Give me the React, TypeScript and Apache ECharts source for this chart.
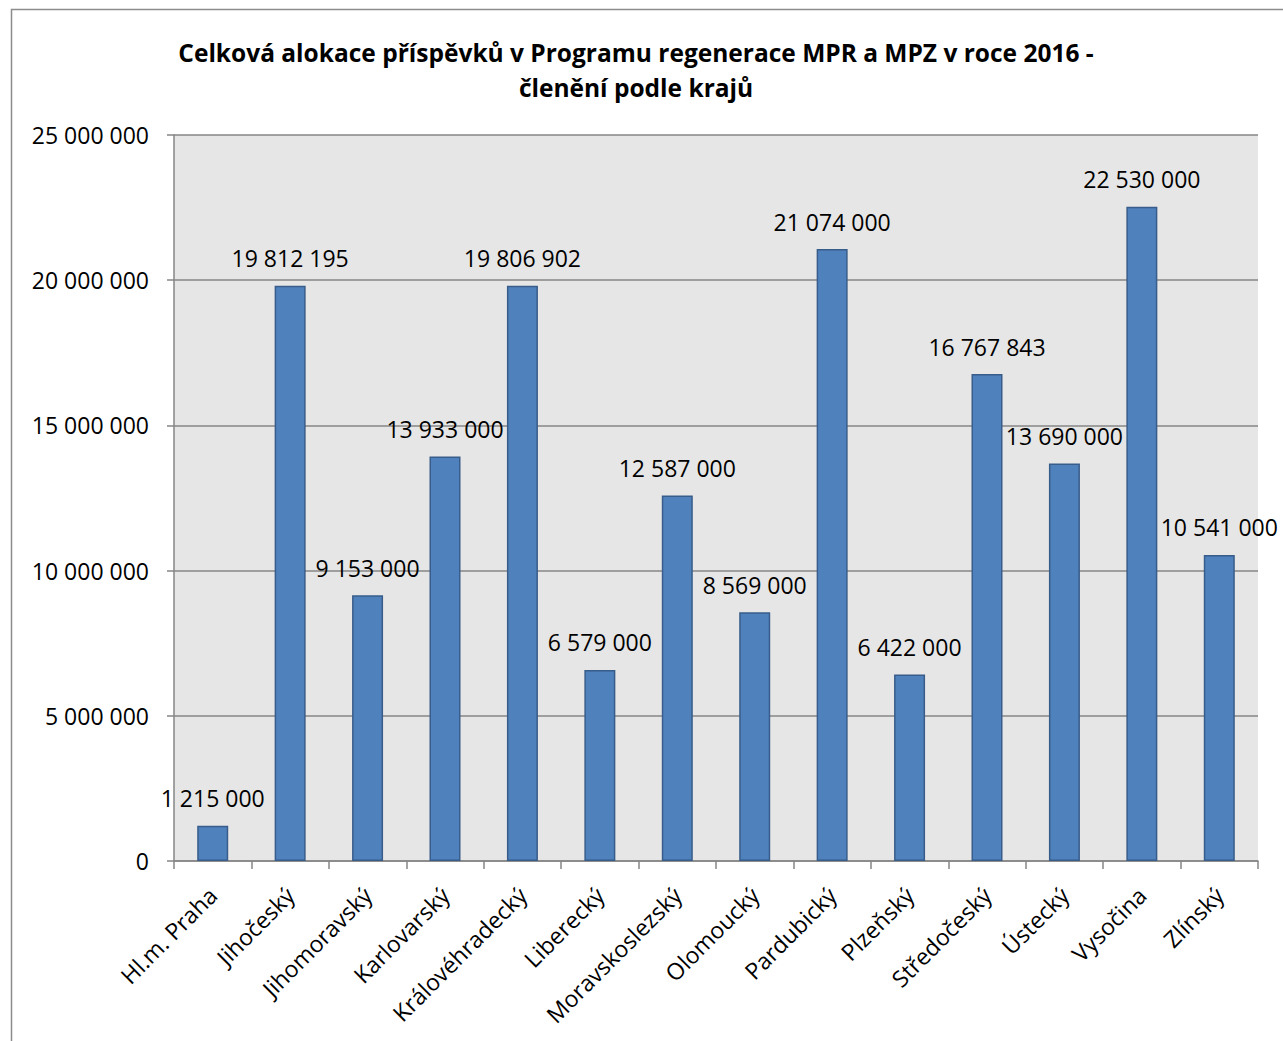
import React, { useEffect, useRef } from "react";
import * as echarts from "echarts";

const categories = [
  "Hl.m. Praha",
  "Jihočeský",
  "Jihomoravský",
  "Karlovarský",
  "Královéhradecký",
  "Liberecký",
  "Moravskoslezský",
  "Olomoucký",
  "Pardubický",
  "Plzeňský",
  "Středočeský",
  "Ústecký",
  "Vysočina",
  "Zlínský",
];

const values = [
  1215000, 19812195, 9153000, 13933000, 19806902, 6579000, 12587000, 8569000,
  21074000, 6422000, 16767843, 13690000, 22530000, 10541000,
];

const titleLines = [
  "Celková alokace příspěvků v Programu regenerace MPR a MPZ v roce 2016 -",
  "členění podle krajů",
];

const yMin = 0;
const yMax = 25000000;
const yInterval = 5000000;

const fmt = (v: number) =>
  String(Math.round(v)).replace(/\B(?=(\d{3})+(?!\d))/g, " ");

const FONT = "'Open Sans', 'Noto Sans', sans-serif";

export default function App() {
  const ref = useRef<HTMLDivElement>(null);
  useEffect(() => {
    if (!ref.current) return;
    const chart = echarts.init(ref.current, null, { renderer: "svg" });
    chart.setOption({
      animation: false,
      backgroundColor: "#ffffff",
      textStyle: { fontFamily: FONT },
      graphic: [
        {
          type: "rect",
          shape: { x: 11.5, y: 9.5, width: 1400, height: 1200 },
          style: { fill: "none", stroke: "#8c8c8c", lineWidth: 1.5 },
          silent: true,
          z: 0,
        },
        {
          type: "text",
          x: 636,
          y: 35,
          silent: true,
          style: {
            text: titleLines.join("\n"),
            textAlign: "center",
            textVerticalAlign: "top",
            fontFamily: FONT,
            fontWeight: "bold",
            fontSize: 24.5,
            lineHeight: 35,
            fill: "#000000",
          },
        },
      ],
      grid: {
        left: 174,
        right: 25,
        top: 135,
        bottom: 180,
        show: true,
        backgroundColor: "#e6e6e6",
        borderWidth: 0,
        outerBoundsMode: "none",
        containLabel: false,
      },
      xAxis: {
        type: "category",
        data: categories,
        axisLine: { show: true, lineStyle: { color: "#868686", width: 1.5 } },
        axisTick: {
          show: true,
          length: 8,
          lineStyle: { color: "#868686", width: 1.5 },
        },
        axisLabel: {
          rotate: 45,
          interval: 0,
          margin: 30,
          fontSize: 23,
          color: "#000000",
          fontFamily: FONT,
        },
        splitLine: { show: false },
      },
      yAxis: {
        type: "value",
        min: yMin,
        max: yMax,
        interval: yInterval,
        axisLine: { show: true, lineStyle: { color: "#868686", width: 1.5 } },
        axisTick: {
          show: true,
          length: 7,
          lineStyle: { color: "#868686", width: 1.5 },
        },
        axisLabel: {
          margin: 25,
          fontSize: 23,
          color: "#000000",
          fontFamily: FONT,
          formatter: (v: number) => fmt(v),
        },
        splitLine: { show: true, lineStyle: { color: "#868686", width: 1.5 } },
      },
      series: [
        {
          type: "bar",
          data: values,
          barWidth: 31,
          itemStyle: {
            color: "#4f81bd",
            borderColor: "#385d8a",
            borderWidth: 1.5,
          },
          label: {
            show: true,
            position: "top",
            distance: 16,
            fontSize: 23,
            color: "#000000",
            fontFamily: FONT,
            formatter: (p: any) => fmt(p.value),
          },
        },
      ],
    });
    return () => chart.dispose();
  }, []);
  return (
    <div
      ref={ref}
      style={{ position: "fixed", left: 0, top: 0, width: 1283, height: 1041 }}
    />
  );
}
